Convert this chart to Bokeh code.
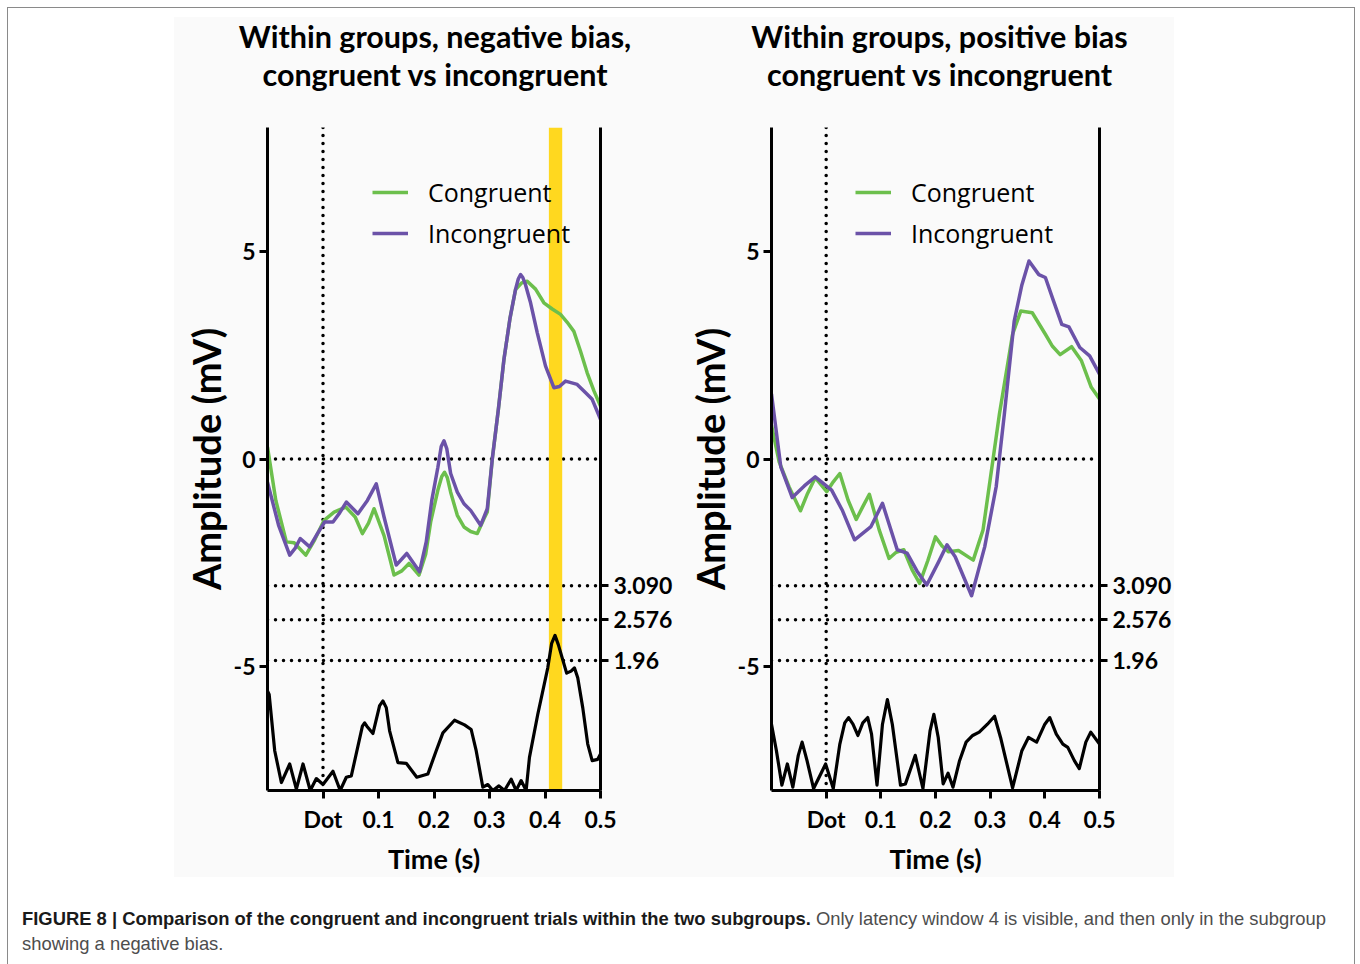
from bokeh.plotting import figure
from bokeh.models import (Range1d, LinearAxis, FixedTicker, Span, Legend, LegendItem, Div)
from bokeh.layouts import row, column
from bokeh.embed import file_html
from bokeh.resources import INLINE

# ---------------- data ----------------
x_ticks = [0.0, 0.1, 0.2, 0.3, 0.4, 0.5]
x_tick_labels = ["Dot", "0.1", "0.2", "0.3", "0.4", "0.5"]
y_ticks = [-5, 0, 5]
y_tick_labels = ["-5", "0", "5"]
z_ticks = [1.96, 2.576, 3.09]
z_tick_labels = ["1.96", "2.576", "3.090"]

titles = [["Within groups, negative bias,", "congruent vs incongruent"],
          ["Within groups, positive bias", "congruent vs incongruent"]]
legend_labels = ["Congruent", "Incongruent"]

# negative-bias subgroup
neg_cong_t = [-0.100, -0.085, -0.066, -0.052, -0.031, -0.015, 0.002, 0.020, 0.041, 0.058,
              0.071, 0.082, 0.092, 0.110, 0.128, 0.142, 0.155, 0.173, 0.185, 0.194,
              0.207, 0.214, 0.219, 0.224, 0.230, 0.242, 0.254, 0.266, 0.278, 0.290, 0.296,
              0.305, 0.316, 0.326, 0.337, 0.347, 0.358, 0.368, 0.383, 0.398, 0.413, 0.428,
              0.440, 0.452, 0.464, 0.476, 0.488, 0.500]
neg_cong_v = [0.29, -1.0, -2.0, -2.02, -2.32, -1.95, -1.48, -1.28, -1.16, -1.40,
              -1.80, -1.55, -1.20, -1.85, -2.80, -2.70, -2.52, -2.80, -2.3, -1.52,
              -0.75, -0.42, -0.32, -0.45, -0.8, -1.36, -1.64, -1.75, -1.80, -1.44, -1.28,
              0.0, 1.2, 2.4, 3.4, 4.09, 4.25, 4.29, 4.1, 3.77, 3.62, 3.49,
              3.3, 3.08, 2.6, 2.08, 1.65, 1.28]
neg_incong_t = [-0.100, -0.080, -0.060, -0.050, -0.041, -0.024, -0.010, 0.003, 0.018, 0.030,
                0.042, 0.063, 0.080, 0.096, 0.110, 0.132, 0.151, 0.174, 0.186, 0.196,
                0.207, 0.213, 0.218, 0.223, 0.230, 0.242, 0.254, 0.266, 0.284, 0.296, 0.305,
                0.316, 0.326, 0.337, 0.347, 0.352, 0.356, 0.360, 0.365, 0.374, 0.386, 0.401,
                0.416, 0.426, 0.437, 0.458, 0.470, 0.485, 0.500]
neg_incong_v = [-0.56, -1.6, -2.32, -2.15, -1.92, -2.12, -1.8, -1.52, -1.52, -1.3,
                -1.04, -1.32, -1.0, -0.6, -1.4, -2.56, -2.28, -2.72, -2.0, -1.0,
                -0.2, 0.30, 0.44, 0.25, -0.35, -0.8, -1.08, -1.24, -1.6, -1.2, 0.0,
                1.2, 2.4, 3.4, 4.1, 4.35, 4.45, 4.38, 4.2, 3.77, 3.05, 2.24,
                1.72, 1.75, 1.88, 1.80, 1.64, 1.44, 0.96]
neg_z_t = [-0.100, -0.097, -0.087, -0.075, -0.060, -0.048, -0.036, -0.023, -0.012, 0.000,
           0.018, 0.031, 0.042, 0.051, 0.071, 0.075, 0.079, 0.090, 0.102, 0.108, 0.114,
           0.120, 0.135, 0.150, 0.169, 0.189, 0.204, 0.216, 0.237, 0.255, 0.267, 0.276,
           0.288, 0.297, 0.306, 0.317, 0.327, 0.339, 0.348, 0.357, 0.366, 0.372, 0.387,
           0.405, 0.412, 0.418, 0.424, 0.439, 0.447, 0.453, 0.459, 0.468, 0.477, 0.485,
           0.495, 0.500]
neg_z_v = [1.50, 1.45, 0.60, 0.12, 0.40, 0.02, 0.40, 0.0, 0.18, 0.09,
           0.29, 0.0, 0.20, 0.22, 0.97, 1.02, 0.97, 0.86, 1.28, 1.35, 1.25,
           0.90, 0.42, 0.41, 0.20, 0.25, 0.60, 0.87, 1.06, 0.99, 0.92, 0.60,
           0.05, 0.09, 0.0, 0.07, 0.0, 0.17, 0.0, 0.15, 0.0, 0.50, 1.15,
           1.85, 2.22, 2.34, 2.20, 1.77, 1.80, 1.85, 1.70, 1.25, 0.70, 0.45,
           0.47, 0.55]
neg_window = [0.407, 0.431]

# positive-bias subgroup
pos_cong_t = [-0.100, -0.086, -0.068, -0.047, -0.034, -0.020, 0.001, 0.013, 0.025, 0.040,
              0.055, 0.067, 0.079, 0.097, 0.115, 0.128, 0.142, 0.157, 0.171, 0.186,
              0.200, 0.212, 0.224, 0.242, 0.269, 0.287, 0.305, 0.317, 0.329, 0.341,
              0.356, 0.377, 0.401, 0.414, 0.428, 0.449, 0.467, 0.485, 0.500]
pos_cong_v = [0.81, -0.07, -0.67, -1.25, -0.83, -0.45, -0.79, -0.55, -0.35, -0.99,
              -1.46, -1.15, -0.85, -1.71, -2.40, -2.25, -2.19, -2.67, -3.0, -2.45,
              -1.88, -2.1, -2.24, -2.21, -2.44, -1.71, -0.03, 1.09, 2.05, 3.01,
              3.57, 3.53, 3.01, 2.72, 2.52, 2.71, 2.37, 1.73, 1.45]
pos_incong_t = [-0.100, -0.083, -0.062, -0.040, -0.020, 0.010, 0.030, 0.052, 0.082, 0.103,
                0.130, 0.148, 0.166, 0.184, 0.205, 0.221, 0.236, 0.266, 0.290, 0.311,
                0.326, 0.344, 0.358, 0.371, 0.389, 0.401, 0.416, 0.431, 0.444, 0.464,
                0.482, 0.500]
pos_incong_v = [1.57, -0.19, -0.93, -0.65, -0.43, -0.75, -1.25, -1.95, -1.63, -1.07,
                -2.19, -2.27, -2.7, -3.04, -2.5, -2.07, -2.36, -3.30, -2.12, -0.67,
                1.09, 3.33, 4.2, 4.78, 4.45, 4.38, 3.81, 3.25, 3.19, 2.69,
                2.49, 2.05]
pos_z_t = [-0.100, -0.091, -0.081, -0.071, -0.061, -0.051, -0.044, -0.035, -0.023, -0.001,
           0.013, 0.025, 0.034, 0.041, 0.049, 0.058, 0.067, 0.076, 0.083, 0.093,
           0.103, 0.112, 0.121, 0.136, 0.145, 0.163, 0.177, 0.190, 0.197, 0.205,
           0.214, 0.223, 0.232, 0.244, 0.256, 0.268, 0.280, 0.295, 0.308, 0.319,
           0.341, 0.358, 0.370, 0.385, 0.400, 0.409, 0.421, 0.433, 0.442, 0.454,
           0.463, 0.475, 0.484, 0.500]
pos_z_v = [1.00, 0.60, 0.08, 0.40, 0.05, 0.53, 0.73, 0.45, 0.03, 0.40,
           0.03, 0.70, 1.02, 1.10, 1.00, 0.83, 1.02, 1.10, 0.85, 0.08,
           1.00, 1.37, 1.00, 0.08, 0.10, 0.53, 0.03, 0.90, 1.15, 0.80,
           0.10, 0.26, 0.05, 0.45, 0.73, 0.83, 0.88, 1.00, 1.12, 0.80,
           0.04, 0.60, 0.80, 0.73, 1.00, 1.10, 0.85, 0.70, 0.65, 0.45,
           0.33, 0.73, 0.88, 0.70]

GREEN = "#6cbf4c"
PURPLE = "#6b52a8"
YELLOW = "#ffd81f"
BG = "#fafafa"
BOLD_FONT = "Lato"


def style_axis(ax, size="23px"):
    ax.axis_line_width = 3
    ax.axis_line_color = "black"
    ax.major_tick_line_width = 3
    ax.major_tick_out = 8
    ax.major_tick_in = 0
    ax.minor_tick_line_color = None
    ax.major_label_text_font = BOLD_FONT
    ax.major_label_text_font_style = "bold"
    ax.major_label_text_font_size = size
    ax.major_label_text_color = "black"
    ax.axis_label_text_font = BOLD_FONT
    ax.axis_label_text_font_style = "bold"
    ax.axis_label_text_color = "black"


def make_panel(cong_t, cong_v, incong_t, incong_v, z_t, z_v, window,
               left_border, right_border, frame_h, bottom_border, legend_loc):
    p = figure(width=left_border + 333 + right_border, height=22 + frame_h + bottom_border,
               x_range=Range1d(-0.1, 0.5), y_range=Range1d(-8, 8), title=None,
               output_backend="svg", toolbar_location=None,
               min_border_left=left_border, min_border_right=right_border,
               min_border_top=22, min_border_bottom=bottom_border,
               background_fill_color=BG, border_fill_color=BG, outline_line_color=None)
    p.margin = (0, 0, 0, 0)
    p.extra_y_ranges = {"z": Range1d(0, 10)}
    p.xgrid.visible = False
    p.ygrid.visible = False

    style_axis(p.xaxis[0])
    style_axis(p.yaxis[0])
    p.xaxis.ticker = FixedTicker(ticks=x_ticks)
    p.xaxis.major_label_overrides = {t: l for t, l in zip(x_ticks, x_tick_labels)}
    p.xaxis.axis_label = "Time (s)"
    p.xaxis.axis_label_text_font_size = "27px"
    p.xaxis.axis_label_standoff = 6
    p.xaxis.major_label_standoff = 6
    p.yaxis.ticker = FixedTicker(ticks=y_ticks)
    p.yaxis.major_label_overrides = {t: l for t, l in zip(y_ticks, y_tick_labels)}
    p.yaxis.axis_label = "Amplitude (mV)"
    p.yaxis.axis_label_text_font_size = "38px"
    p.yaxis.axis_label_standoff = 2
    p.yaxis.major_label_standoff = 4

    zax = LinearAxis(y_range_name="z", ticker=FixedTicker(ticks=z_ticks),
                     major_label_overrides={t: l for t, l in zip(z_ticks, z_tick_labels)})
    style_axis(zax)
    zax.major_label_standoff = 5
    p.add_layout(zax, "right")

    dot = dict(line_color="black", line_width=3.5, line_dash="0 8", line_cap="round",
               level="underlay")
    p.add_layout(Span(location=0, dimension="height", **dot))
    p.add_layout(Span(location=0, dimension="width", **dot))
    for zt in z_ticks:
        p.add_layout(Span(location=zt, dimension="width", y_range_name="z", **dot))

    if window is not None:
        p.quad(left=[window[0]], right=[window[1]], bottom=[-8], top=[8],
               fill_color=YELLOW, line_color=None)

    p.line(z_t, z_v, y_range_name="z", line_color="black", line_width=3.2,
           line_join="round")
    r_c = p.line(cong_t, cong_v, line_color=GREEN, line_width=3.5, line_join="round")
    r_i = p.line(incong_t, incong_v, line_color=PURPLE, line_width=3.5, line_join="round")

    leg = Legend(items=[LegendItem(label=legend_labels[0], renderers=[r_c]),
                        LegendItem(label=legend_labels[1], renderers=[r_i])],
                 location=legend_loc, orientation="vertical",
                 label_text_font="Open Sans", label_text_font_size="25px",
                 label_text_color="black",
                 glyph_width=36, glyph_height=30, label_height=30, label_standoff=20,
                 spacing=7, padding=0, margin=0,
                 border_line_color=None, background_fill_alpha=0)
    p.add_layout(leg, "center")
    return p


def title_div(lines, width, shift):
    html = ('<div style="width: %dpx; font-family: Lato, sans-serif; font-weight: bold; '
            'font-size: 30.5px; line-height: 38px; text-align: center; color: black; '
            'white-space: nowrap; position: relative; left: %spx;">%s<br>%s</div>'
            % (width, shift, lines[0], lines[1]))
    d = Div(text=html, width=width, height=88, styles={"background-color": BG})
    d.margin = (0, 0, 0, 0)
    return d


p1 = make_panel(neg_cong_t, neg_cong_v, neg_incong_t, neg_incong_v,
                neg_z_t, neg_z_v, neg_window, 93, 75, 666, 84, (105, 540))
p2 = make_panel(pos_cong_t, pos_cong_v, pos_incong_t, pos_incong_v,
                pos_z_t, pos_z_v, None, 96, 70, 670, 80, (84, 540))

heads = row(title_div(titles[0], p1.width, 10.5), title_div(titles[1], p2.width, 15),
            styles={"background-color": BG})
heads.margin = (9, 0, 0, 166)
figs = row(p1, p2, styles={"background-color": BG})
figs.margin = (0, 0, 0, 166)

caption = Div(
    text=('<div style="font-family: \'Liberation Sans\', Arial, Helvetica, sans-serif; '
          'font-size: 18.4px; line-height: 25px; color: #4d4d4d; white-space: nowrap;">'
          '<b style="color:#1a1a1a;">FIGURE 8 | Comparison of the congruent and incongruent '
          'trials within the two subgroups.</b> Only latency window 4 is visible, and then '
          'only in the subgroup<br>showing a negative bias.</div>'),
    width=1330, height=55)
caption.margin = (29, 0, 0, 14)

root = column(heads, figs, caption)
root.margin = (7, 0, 0, 7)
root.styles = {"border-top": "1px solid #8a8a8a", "border-left": "1px solid #8a8a8a",
               "border-right": "1px solid #8a8a8a", "width": "1348px", "height": "980px"}

open("out.html", "w").write(file_html(root, INLINE))
